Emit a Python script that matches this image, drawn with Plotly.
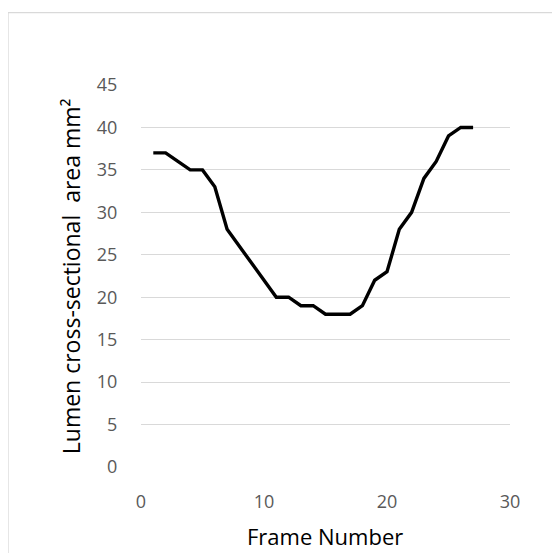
import plotly.graph_objects as go

frames = list(range(1, 28))
area = [37, 37, 36, 35, 35, 33, 28, 26, 24, 22, 20, 20, 19, 19, 18, 18, 18, 19, 22, 23, 28, 30, 34, 36, 39, 40, 40]
x_ticks = [0, 10, 20, 30]
y_ticks = [0, 5, 10, 15, 20, 25, 30, 35, 40, 45]

fig = go.Figure(go.Scatter(x=frames, y=area, mode="lines",
                           line=dict(color="black", width=3.4)))

# page has an 8px body margin, so the figure is offset by 8px
W, H = 552, 545
ml, mr, mt, mb = 133.4, 50.4, 77, 85.5
pw, ph = W - ml - mr, H - mt - mb

def px(xp):
    return (xp - ml) / pw

def py(yp):
    return (H - mb - yp) / ph

font_fam = "Open Sans, Liberation Sans, sans-serif"
tickfont = dict(family=font_fam, size=18, color="#595959")

fig.update_layout(
    width=W, height=H,
    margin=dict(l=ml, r=mr, t=mt, b=mb),
    paper_bgcolor="white", plot_bgcolor="white",
    showlegend=False,
    xaxis=dict(range=[0, 30], tickvals=x_ticks, showgrid=False, zeroline=False,
               showline=False, ticks="outside", ticklen=18, tickcolor="rgba(0,0,0,0)",
               tickfont=tickfont),
    yaxis=dict(range=[0, 45], tickvals=y_ticks, showgrid=True, gridcolor="#d9d9d9",
               gridwidth=1.3, zeroline=False, showline=False, ticks="outside",
               ticklen=19, tickcolor="rgba(0,0,0,0)", tickfont=tickfont),
    annotations=[
        dict(text="Lumen cross-sectional  area mm²", xref="paper", yref="paper",
             x=px(63), y=py(268), textangle=-90, showarrow=False,
             font=dict(family=font_fam, size=23, color="black"),
             xanchor="center", yanchor="middle"),
        dict(text="Frame Number", xref="paper", yref="paper",
             x=px(317), y=py(529), showarrow=False,
             font=dict(family=font_fam, size=22, color="black"),
             xanchor="center", yanchor="middle"),
    ],
    shapes=[
        dict(type="rect", xref="paper", yref="paper",
             x0=px(0.7), x1=px(600), y0=py(4.5), y1=py(600),
             line=dict(color="#d9d9d9", width=1.3), fillcolor="rgba(0,0,0,0)", layer="below"),
    ],
)

fig.write_html("out.html")
